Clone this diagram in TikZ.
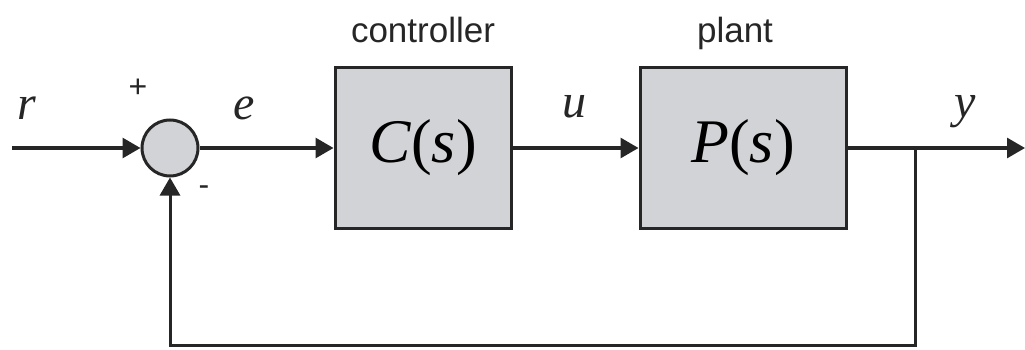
\documentclass[tikz,border=0pt]{standalone}
\usepackage{fontspec}
\setmainfont{Liberation Serif}
\newfontfamily\labelsans{Liberation Sans}
\usetikzlibrary{arrows.meta}
\definecolor{boxgray}{RGB}{210,211,214}
\definecolor{ink}{RGB}{38,38,38}
\tikzset{
  wire/.style={draw=ink, line width=3pt, line join=miter},
  sig/.style={wire, -{Triangle[length=18pt,width=20pt]}},
  block/.style={draw=ink, fill=boxgray, line width=3pt, rectangle, inner sep=0pt},
  junction/.style={draw=ink, fill=boxgray, line width=3pt, circle, inner sep=0pt, minimum size=56pt},
  varlabel/.style={font=\fontsize{48}{48}\selectfont\itshape, text=ink, anchor=base, inner sep=0pt},
  signlabel/.style={font=\labelsans\fontsize{32}{32}\selectfont, text=ink, inner sep=0pt},
  caption/.style={font=\labelsans\fontsize{35}{35}\selectfont, text=ink, anchor=base, inner sep=0pt},
  tf/.style={font=\fontsize{62}{62}\selectfont}
}
\begin{document}
\begin{tikzpicture}[x=1pt,y=-1pt]
  \useasboundingbox (0,0) rectangle (1025,350);

  % blocks
  \node[junction] (sum) at (170,148) {};
  \node[block, tf, minimum width=176pt, minimum height=160pt] (C) at (423,148) {\textit{C}(\textit{s})};
  \node[block, tf, minimum width=206pt, minimum height=160pt] (P) at (743,148) {\textit{P}(\textit{s})};

  % free ends and branch points
  \coordinate (in)  at (12,148);
  \coordinate (out) at (1025,148);
  \coordinate (br)  at (915,148);
  \coordinate (fb)  at (915,345);

  % signal flow
  \draw[sig] (in) -- (sum.west);
  \draw[sig] (sum.east) -- (C.west);
  \draw[sig] (C.east) -- (P.west);
  \draw[sig] (P.east) -- (out);
  \draw[sig] (br) -- (fb) -| (sum.south);

  % captions
  \node[caption] (capC) at (423,43) {controller};
  \node[caption] (capP) at (735,43) {plant};

  % signal names
  \node[varlabel] (lr) at (27,120) {r};
  \node[varlabel] (le) at (244,120) {e};
  \node[varlabel] (lu) at (574,118) {u};
  \node[varlabel] (ly) at (965,118) {y};

  % summing signs
  \node[signlabel] (plus)  at (138,88) {+};
  \node[signlabel] (minus) at (204,191) {-};
\end{tikzpicture}
\end{document}
